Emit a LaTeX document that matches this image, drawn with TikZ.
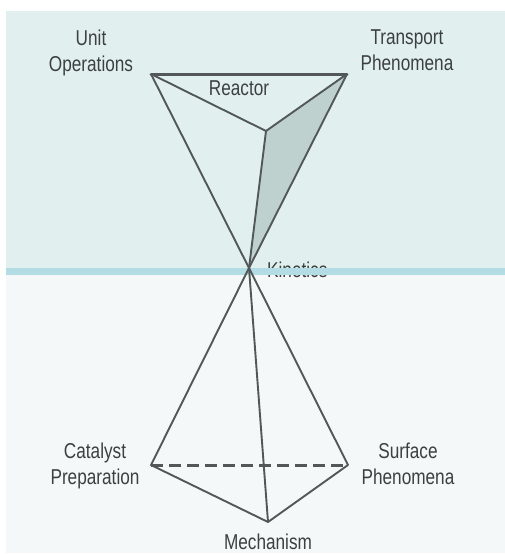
\documentclass[tikz,border=0pt]{standalone}
\usepackage{fontspec}
\setmainfont[FakeStretch=0.8]{Liberation Sans}
\usetikzlibrary{positioning}
\definecolor{PanelTop}{HTML}{E1F0EF}
\definecolor{PanelLow}{HTML}{F4F8F9}
\definecolor{Band}{HTML}{B4DCE4}
\definecolor{Face}{HTML}{BFD1CF}
\definecolor{Edge}{HTML}{525757}
\definecolor{Ink}{HTML}{3C4040}

\begin{document}
\begin{tikzpicture}[
  x=1pt, y=-1pt,
  lbl/.style={text=Ink, align=center, inner sep=0pt,
    font=\fontsize{21.5}{26.5}\selectfont},
  edge/.style={draw=Edge, line width=1.9pt, line join=round},
  rim/.style={draw=Edge, line width=3pt, line cap=round},
  hidden/.style={draw=Edge, line width=3pt, dash pattern=on 12pt off 6pt}
]
\useasboundingbox (0,0) rectangle (505,554);

% background panels
\fill[PanelTop] (6,11) rectangle (505,268);
\fill[PanelLow] (6,275) rectangle (505,553);

% corners of the two pyramids
\coordinate (uo) at (151,74);
\coordinate (tp) at (347,74);
\coordinate (re) at (266,131);
\coordinate (ki) at (249,268);
\coordinate (cp) at (151,465);
\coordinate (sp) at (348,465);
\coordinate (me) at (268,522);

\node (kin) [lbl, anchor=base west] at (267,277) {Kinetics};

% dividing band
\fill[Band] (6,268) rectangle (505,275);

% upper pyramid
\fill[Face] (re) -- (tp) -- (ki) -- cycle;
\draw[edge] (uo) -- (re) -- (tp);
\draw[edge] (uo) -- (ki) -- (tp);
\draw[edge] (re) -- (ki);
\draw[rim] (uo) -- (tp);

% lower pyramid
\draw[hidden] (cp) -- (sp);
\draw[edge] (ki) -- (cp) -- (me) -- (sp) -- cycle;
\draw[edge] (ki) -- (me);

\node (unit) [lbl, anchor=north] at (91,29.5) {Unit\\Operations};
\node (trans) [lbl, anchor=north] at (407,29.5) {Transport\\Phenomena};
\node (reac) [lbl, anchor=base] at (239,95) {Reactor};
\node (cat) [lbl, anchor=north] at (95,442.5) {Catalyst\\Preparation};
\node (surf) [lbl, anchor=north] at (408,442.5) {Surface\\Phenomena};
\node (mech) [lbl, anchor=base] at (268,549) {Mechanism};
\end{tikzpicture}
\end{document}
